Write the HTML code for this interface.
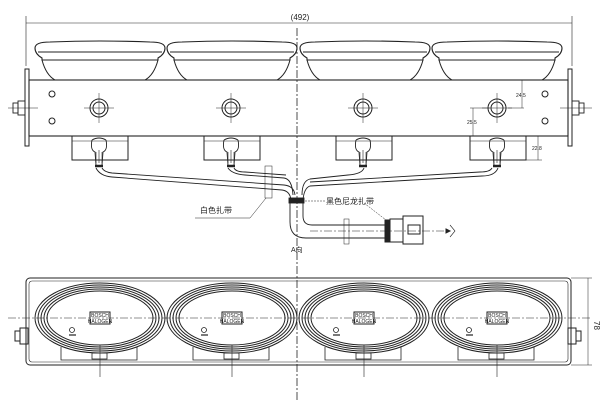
<!DOCTYPE html>
<html><head><meta charset="utf-8"><style>
html,body{margin:0;padding:0;background:#fff;width:600px;height:400px;overflow:hidden}
svg{display:block}
text{font-family:"Liberation Sans","Noto Sans CJK SC",sans-serif;fill:#222}
</style></head><body>
<svg width="600" height="400" viewBox="0 0 600 400" fill="none" stroke="#222" stroke-width="1">
<line x1="26" y1="23" x2="572" y2="23" stroke-width="0.6"/>
<line x1="26" y1="16" x2="26" y2="66" stroke-width="0.6"/>
<line x1="572" y1="16" x2="572" y2="66" stroke-width="0.6"/>
<text x="300" y="20" font-size="8" text-anchor="middle" stroke="none">(492)</text>
<line x1="297" y1="28" x2="297" y2="400" stroke-dasharray="8,2,2,2" stroke-width="0.8"/>
<g id="lamp">
<path d="M35 48 Q35 42 50 42 Q100 40 150 42 Q165 42 165 48 Q165 54 158 58 L158 60 L42 60 L42 58 Q35 54 35 48Z" stroke-width="1.1"/>
<line x1="38" y1="52" x2="162" y2="52"/>
<path d="M42 60 Q46 75 55 80 M158 60 Q154 75 145 80"/>
</g>
<use href="#lamp" x="132"/>
<use href="#lamp" x="265"/>
<use href="#lamp" x="397"/>
<rect x="29" y="80" width="539" height="56" stroke-width="1.1"/>
<rect x="25" y="69" width="4" height="77"/>
<rect x="568" y="69" width="4" height="77"/>
<g stroke-width="0.9">
<rect x="18" y="101" width="7" height="14"/><rect x="13" y="103" width="5" height="10"/>
<rect x="572" y="101" width="7" height="14"/><rect x="579" y="103" width="5" height="10"/>
<line x1="8" y1="108" x2="38" y2="108" stroke-width="0.5"/>
<line x1="560" y1="108" x2="592" y2="108" stroke-width="0.5"/>
</g>
<circle cx="52" cy="94" r="3"/><circle cx="52" cy="121" r="3"/>
<circle cx="545" cy="94" r="3"/><circle cx="545" cy="121" r="3"/>
<g id="mh"><circle cx="99" cy="108" r="9"/><circle cx="99" cy="108" r="6"/>
<line x1="84" y1="108" x2="114" y2="108" stroke-width="0.5"/><line x1="99" y1="93" x2="99" y2="123" stroke-width="0.5"/></g>
<use href="#mh" x="132"/><use href="#mh" x="264"/><use href="#mh" x="398"/>
<g id="bx"><rect x="72" y="136" width="56" height="24"/><line x1="72" y1="141" x2="128" y2="141" stroke-width="0.6"/>
<path d="M92 140 Q90 150 95 152 L96 165 M106 140 Q108 150 103 152 L102 165 M92 140 Q99 136 106 140" stroke-width="0.9"/>
<path d="M96 152 L96 163 M99 150 L99 163 M102 152 L102 163" stroke-width="0.6"/>
<line x1="95" y1="166" x2="103" y2="166" stroke-width="2.5"/></g>
<use href="#bx" x="132"/><use href="#bx" x="264"/><use href="#bx" x="398"/>
<g stroke-width="0.9">
<path d="M96 168 Q100 176 112 177 L282 190 Q290 191 291 200"/>
<path d="M102 168 Q104 172 112 173 L284 185 Q294 186 295 195"/>
<path d="M228 168 Q232 174 245 175 L284 178 Q292 179 293 195"/>
<path d="M234 168 Q236 172 245 172 L286 175"/>
<path d="M364 168 Q362 174 348 175 L310 179 Q302 181 302 195"/>
<path d="M498 168 Q495 176 482 176 L310 186 Q304 188 303 200"/>
<path d="M492 168 Q490 172 480 172 L310 182"/>
<path d="M290 200 L290 222 Q290 238 306 238 L385 238"/>
<path d="M303 200 L303 216 Q303 225 312 225 L385 225"/>
<rect x="289" y="198" width="15" height="5" fill="#222"/>
<rect x="344" y="219" width="5" height="25" stroke-width="0.5"/>
</g>
<rect x="385" y="220" width="4" height="22" fill="#222"/>
<rect x="390" y="219" width="13" height="23"/>
<rect x="403" y="216" width="20" height="28"/>
<rect x="408" y="225" width="12" height="9"/>
<line x1="310" y1="231" x2="450" y2="231" stroke-dasharray="8,2,2,2" stroke-width="0.6"/>
<path d="M446 229 L450 231 L446 233Z" fill="#222"/>
<path d="M450 225 L455 231 L450 237" stroke-width="0.6"/>
<rect x="265" y="166" width="7" height="32" stroke-width="0.5"/>
<line x1="195" y1="218" x2="250" y2="218" stroke-width="0.5"/>
<line x1="250" y1="218" x2="266" y2="198" stroke-width="0.5"/>
<text x="200" y="213" font-size="8" stroke="none">白色扎带</text>
<line x1="305" y1="201" x2="325" y2="201" stroke-width="0.5" stroke-dasharray="2,1"/>
<text x="326" y="204" font-size="8" stroke="none">黑色尼龙扎带</text>
<line x1="364" y1="203" x2="386" y2="220" stroke-width="0.5" stroke-dasharray="2,1"/>
<text x="291" y="252" font-size="7" stroke="none">A向</text>
<g stroke-width="0.5">
<line x1="518" y1="80" x2="527" y2="80"/><line x1="522" y1="80" x2="522" y2="108"/><line x1="508" y1="108" x2="524" y2="108"/>
<line x1="473" y1="108" x2="473" y2="136"/><line x1="470" y1="108" x2="490" y2="108"/>
<line x1="538" y1="136" x2="538" y2="160"/><line x1="526" y1="160" x2="542" y2="160"/>
</g>
<text x="516" y="97" font-size="5" stroke="none">24.5</text>
<text x="467" y="124" font-size="5" stroke="none">25.5</text>
<text x="532" y="150" font-size="5" stroke="none">22.8</text>
<rect x="26" y="278" width="545" height="87" rx="4"/>
<rect x="29" y="281" width="539" height="81" rx="3" stroke-width="0.6"/>
<line x1="588" y1="278" x2="588" y2="365" stroke-width="0.5"/>
<line x1="571" y1="278" x2="592" y2="278" stroke-width="0.5"/>
<line x1="571" y1="365" x2="592" y2="365" stroke-width="0.5"/>
<text x="0" y="0" font-size="8" stroke="none" transform="translate(594,321) rotate(90)">78</text>
<g id="ov">
<ellipse cx="100" cy="318" rx="65" ry="35"/><ellipse cx="100" cy="318" rx="62" ry="33"/>
<ellipse cx="100" cy="318" rx="59" ry="31"/><ellipse cx="100" cy="318" rx="56" ry="29"/>
<ellipse cx="100" cy="318" rx="53" ry="27"/>
<path d="M61 347 L61 360 L137 360 L137 347" stroke-width="0.8"/>
<rect x="92" y="353" width="15" height="6" stroke-width="0.8"/>
<line x1="100" y1="345" x2="100" y2="377" stroke-width="0.6"/>
<rect x="90" y="312" width="20" height="12" fill="#fff" stroke="#222"/>
<text x="100" y="317" font-size="5" text-anchor="middle" stroke="none">BOSCH</text>
<text x="100" y="323" font-size="5" text-anchor="middle" stroke="none">HALOGEN</text>
<circle cx="72" cy="330" r="2.5" stroke-width="0.8"/>
<line x1="69" y1="335" x2="76" y2="335" stroke-width="1.2"/>
</g>
<use href="#ov" x="132"/><use href="#ov" x="264"/><use href="#ov" x="397"/>
<line x1="8" y1="318" x2="590" y2="318" stroke-dasharray="8,2,2,2" stroke-width="0.6"/>
<rect x="20" y="328" width="8" height="16"/><rect x="15" y="331" width="5" height="10"/>
<rect x="568" y="328" width="8" height="16"/><rect x="576" y="331" width="5" height="10"/>
</svg>
</body></html>
